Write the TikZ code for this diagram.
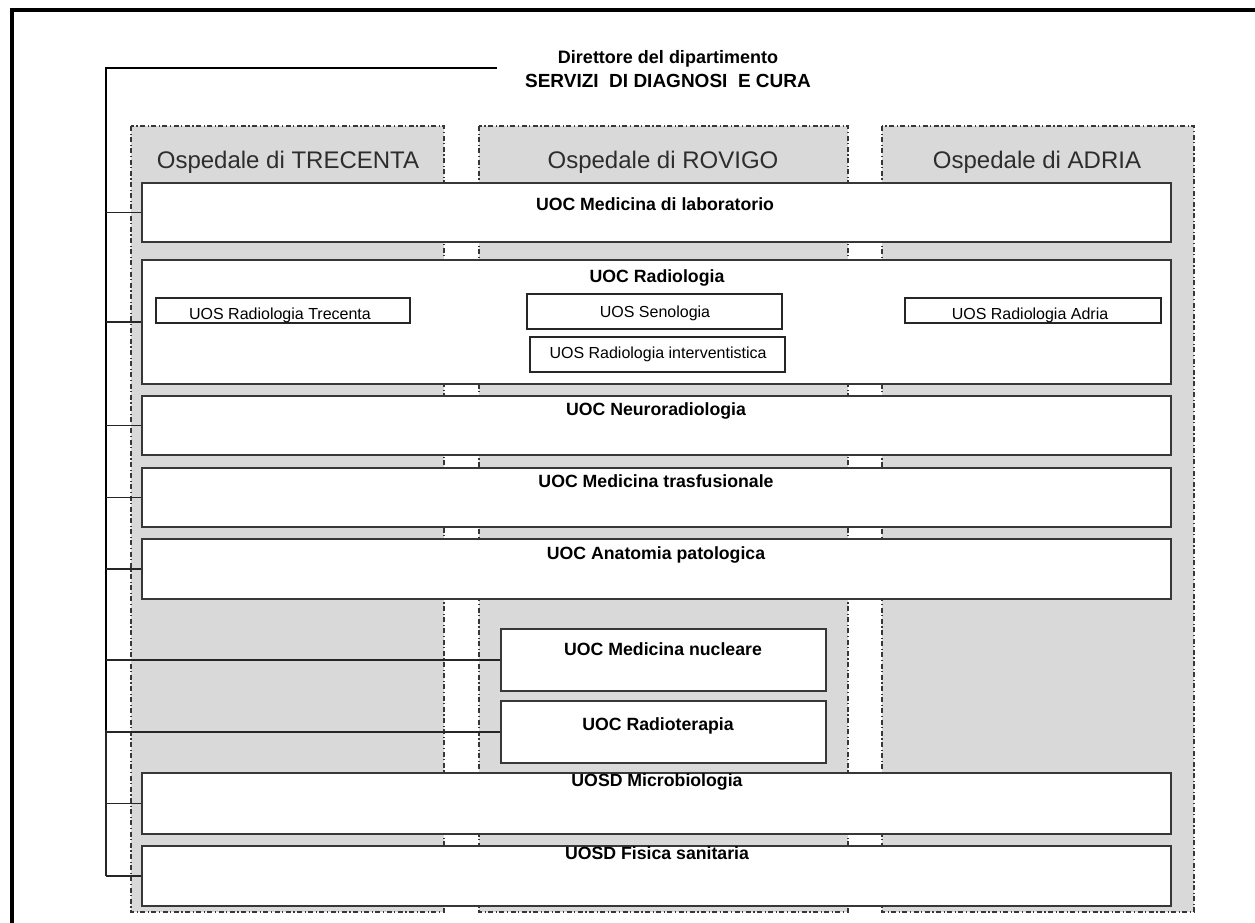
\documentclass[tikz,border=0pt]{standalone}
\usepackage{fontspec}
\setmainfont{Liberation Sans}
\usetikzlibrary{fit}
\definecolor{colgray}{RGB}{217,217,217}
\definecolor{hospgray}{RGB}{45,45,45}
\definecolor{edge}{RGB}{55,55,55}
\begin{document}
\begin{tikzpicture}[x=1pt,y=-1pt,
  col/.style={fill=colgray, draw=edge, line width=1.2pt, dash pattern=on 5pt off 2.5pt on 1.2pt off 2.5pt},
  unit/.style={draw=edge, fill=white, line width=1.4pt, inner sep=0pt},
  sub/.style={draw=black!85, fill=white, line width=1.2pt, inner sep=0pt},
  lbl/.style={font=\bfseries\fontsize{17.7}{20}\selectfont, anchor=base, inner sep=0pt},
  sublbl/.style={font=\fontsize{16}{18}\selectfont, anchor=base, inner sep=0pt},
  hosp/.style={font=\fontsize{24}{27}\selectfont, text=hospgray, anchor=base, inner sep=0pt},
  ttl/.style={font=\bfseries\fontsize{18}{20}\selectfont, anchor=base, inner sep=0pt},
  link/.style={line width=1.3pt, draw=black!85},
  trunkline/.style={line width=2.4pt, draw=black}]
\useasboundingbox (0,0) rectangle (1255,922);
% outer frame (only top and left visible)
\draw[line width=4pt] (1260,10) -- (12,10) -- (12,930);
% hospital columns
\path[col] (131,126) rectangle (444,912);
\path[col] (479,126) rectangle (848,912);
\path[col] (882,126) rectangle (1194,912);
\node[hosp] (hT) at (288,168) {Ospedale di TRECENTA};
\node[hosp] (hR) at (663,168) {Ospedale di ROVIGO};
\node[hosp] (hA) at (1037,168) {Ospedale di ADRIA};
% title
\node[ttl] (title1) at (668,63) {Direttore del dipartimento};
\node[ttl, font=\bfseries\fontsize{19}{21}\selectfont] (title2) at (668,87) {SERVIZI\ \ DI DIAGNOSI\ \ E CURA};
% units
\node[unit, fit={(142,183) (1171,242)}] (lab) {};
\node[unit, fit={(142,260) (1171,384)}] (rad) {};
\node[unit, fit={(142,396) (1171,455)}] (neuro) {};
\node[unit, fit={(142,468) (1171,527)}] (tras) {};
\node[unit, fit={(142,539) (1171,599)}] (anat) {};
\node[unit, fit={(501,629) (826,691)}] (nucl) {};
\node[unit, fit={(501,701) (826,763)}] (radio) {};
\node[unit, fit={(142,773) (1171,834)}] (micro) {};
\node[unit, fit={(142,846) (1171,906)}] (fis) {};
% sub units
\node[sub, fit={(156,298) (410,323)}] (uosT) {};
\node[sub, fit={(527,294) (782,329)}] (seno) {};
\node[sub, fit={(530,337) (785,372)}] (interv) {};
\node[sub, fit={(905,298) (1161,323)}] (uosA) {};
% labels
\node[lbl] (labL) at (655,210) {UOC Medicina di laboratorio};
\node[lbl] (radL) at (657,282) {UOC Radiologia};
\node[lbl] (neuroL) at (656,415) {UOC Neuroradiologia};
\node[lbl] (trasL) at (656,487) {UOC Medicina trasfusionale};
\node[lbl] (anatL) at (656,559) {UOC Anatomia patologica};
\node[lbl] (nuclL) at (663,655) {UOC Medicina nucleare};
\node[lbl] (radioL) at (658,730) {UOC Radioterapia};
\node[lbl] (microL) at (657,786) {UOSD Microbiologia};
\node[lbl] (fisL) at (657,859) {UOSD Fisica sanitaria};
\node[sublbl] (uosTL) at (280,319) {UOS Radiologia Trecenta};
\node[sublbl] (senoL) at (655,317) {UOS Senologia};
\node[sublbl] (intervL) at (658,358) {UOS Radiologia interventistica};
\node[sublbl] (uosAL) at (1030,319) {UOS Radiologia Adria};
% connectors
\coordinate (head) at (497,68);
\coordinate (trunk) at (106,68);
\coordinate (mid) at (106,730);
\draw[trunkline] (head) -- (trunk) -- (mid);
\draw[link] (mid) -- (trunk |- fis.west);
\foreach \u in {lab,rad,neuro,tras,anat,nucl,radio,micro,fis}{
  \draw[link] (trunk |- \u.west) -- (\u.west);
}
\end{tikzpicture}
\end{document}
